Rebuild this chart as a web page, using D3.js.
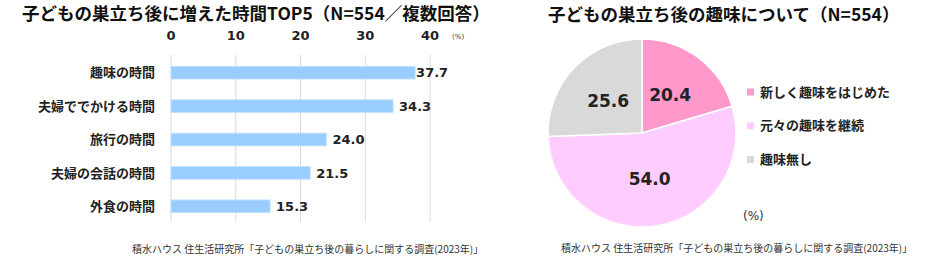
<!DOCTYPE html>
<html>
<head>
<meta charset="utf-8">
<script src="https://cdn.jsdelivr.net/npm/d3@7"></script>
<style>
  body { margin: 0; background: #fff; }
  svg { display: block; font-family: "DejaVu Sans", "Noto Sans CJK JP", sans-serif; }
  .title { font-family: "Noto Sans CJK JP", sans-serif; }
</style>
</head>
<body>
<svg id="chart" width="940" height="266"></svg>
<script>
'use strict'

// left: top 5 increased times (multiple answers)
const barCategories = ['趣味の時間', '夫婦ででかける時間', '旅行の時間', '夫婦の会話の時間', '外食の時間']
const barValues = [37.7, 34.3, 24.0, 21.5, 15.3]
const barTicks = [0, 10, 20, 30, 40]

// right: hobbies after the children left
const pieLabels = ['新しく趣味をはじめた', '元々の趣味を継続', '趣味無し']
const pieValues = [20.4, 54.0, 25.6]
const pieColors = ['#ff99cc', '#ffccff', '#d9d9d9']

const sourceText = '積水ハウス 住生活研究所「子どもの巣立ち後の暮らしに関する調査(2023年)」'

const svg = d3.select('#chart')

// ---- bar chart ----
const x = d3.scaleLinear().domain([0, 40]).range([171, 430])
const y = d3.scaleBand().domain(barCategories).range([56, 223]).paddingInner(0.62).paddingOuter(0.31)

svg.append('text')
    .attr('class', 'title')
    .attr('x', 22).attr('y', 20)
    .attr('font-size', 17.5).attr('font-weight', 'bold').attr('fill', '#111')
    .text('子どもの巣立ち後に増えた時間TOP5（N=554／複数回答）')

svg.append('g').selectAll('line')
    .data(barTicks)
    .join('line')
    .attr('x1', d => x(d)).attr('x2', d => x(d))
    .attr('y1', 55).attr('y2', 222)
    .attr('stroke', '#d9d9d9').attr('stroke-width', 1)

svg.append('g').selectAll('text')
    .data(barTicks)
    .join('text')
    .attr('x', d => x(d)).attr('y', 40)
    .attr('text-anchor', 'middle')
    .attr('font-size', 13).attr('font-weight', 'bold').attr('fill', '#222')
    .text(d => d)

svg.append('text')
    .attr('x', 452).attr('y', 39)
    .attr('font-size', 7).attr('fill', '#333')
    .text('(%)')

svg.append('g').selectAll('rect')
    .data(barValues)
    .join('rect')
    .attr('x', x(0))
    .attr('y', (d, i) => y(barCategories[i]))
    .attr('width', d => x(d) - x(0))
    .attr('height', y.bandwidth())
    .attr('fill', '#99ccff')
    .attr('stroke', '#c4e1ff').attr('stroke-width', 1)

svg.append('g').selectAll('text')
    .data(barCategories)
    .join('text')
    .attr('x', 155)
    .attr('y', d => y(d) + y.bandwidth() / 2)
    .attr('dy', '0.36em')
    .attr('text-anchor', 'end')
    .attr('font-size', 13).attr('font-weight', 'bold').attr('fill', '#222')
    .text(d => d)

svg.append('g').selectAll('text')
    .data(barValues)
    .join('text')
    .attr('x', (d, i) => x(d) + (i === 0 ? 1 : 6))
    .attr('y', (d, i) => y(barCategories[i]) + y.bandwidth() / 2)
    .attr('dy', '0.36em')
    .attr('font-size', 13).attr('font-weight', 'bold').attr('fill', '#222')
    .text(d => d.toFixed(1))

svg.append('text')
    .attr('class', 'title')
    .attr('x', 132).attr('y', 253)
    .attr('font-size', 10).attr('fill', '#333')
    .text(sourceText)

// ---- pie chart ----
const cx = 642, cy = 133, r = 94

svg.append('text')
    .attr('class', 'title')
    .attr('x', 548).attr('y', 21)
    .attr('font-size', 17.5).attr('font-weight', 'bold').attr('fill', '#111')
    .text('子どもの巣立ち後の趣味について（N=554）')

const pie = d3.pie().sort(null).value(d => d)
const arc = d3.arc().innerRadius(0).outerRadius(r)
const labelArc = d3.arc().innerRadius(r * 0.5).outerRadius(r * 0.5)
const arcs = pie(pieValues)

const pg = svg.append('g').attr('transform', `translate(${cx},${cy})`)

pg.selectAll('path')
    .data(arcs)
    .join('path')
    .attr('d', arc)
    .attr('fill', (d, i) => pieColors[i])
    .attr('stroke', '#fff').attr('stroke-width', 1.5)

pg.selectAll('text')
    .data(arcs)
    .join('text')
    .attr('transform', d => `translate(${labelArc.centroid(d)})`)
    .attr('text-anchor', 'middle')
    .attr('dy', '0.36em')
    .attr('font-size', 17).attr('font-weight', 'bold').attr('fill', '#222')
    .text(d => d.data.toFixed(1))

const legend = svg.append('g').selectAll('g')
    .data(pieLabels)
    .join('g')
    .attr('transform', (d, i) => `translate(747,${92 + i * 33.8})`)

legend.append('rect')
    .attr('x', 0).attr('y', -3.5)
    .attr('width', 7).attr('height', 7)
    .attr('fill', (d, i) => pieColors[i])

legend.append('text')
    .attr('x', 13).attr('dy', '0.36em')
    .attr('font-size', 13).attr('font-weight', 'bold').attr('fill', '#222')
    .text(d => d)

svg.append('text')
    .attr('x', 743).attr('y', 220)
    .attr('font-size', 12).attr('fill', '#333')
    .text('(%)')

svg.append('text')
    .attr('class', 'title')
    .attr('x', 561).attr('y', 252)
    .attr('font-size', 10).attr('fill', '#333')
    .text(sourceText)
</script>
</body>
</html>
